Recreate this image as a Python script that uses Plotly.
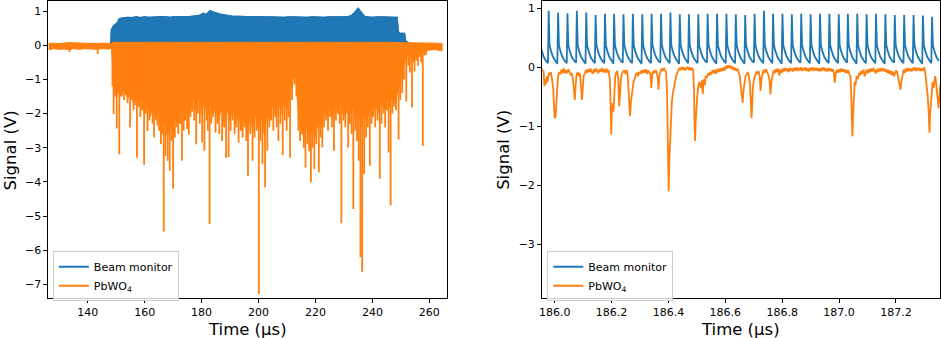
import plotly.graph_objects as go

BLUE = "#1f77b4"
ORANGE = "#ff7f0e"

# ---------------- Left panel data (full spill) ----------------
# Beam monitor: upper envelope of the dense signal (V) vs time (us)
beam_t = [148.2, 148.4, 149.0, 149.8, 150.5, 151.2, 152.5, 154.0, 155.5, 157.0, 158.5, 160.0, 161.5,
          163.0, 164.5, 166.0, 167.5, 169.0, 170.5, 172.0, 173.5, 175.0, 176.5, 178.0, 179.0,
          180.0, 180.8, 181.5, 182.3, 183.0, 183.8, 184.6, 185.5, 186.5, 188.0, 189.5, 191.0,
          193.0, 195.0, 197.0, 199.0, 201.0, 203.0, 205.0, 207.0, 209.0, 211.0, 213.0, 215.0,
          217.0, 219.0, 221.0, 223.0, 225.0, 227.0, 229.0, 231.0, 232.5, 233.5, 234.3, 235.0,
          235.6, 236.3, 237.2, 238.5, 240.0, 242.0, 244.0, 246.0, 248.0, 248.6, 249.0, 249.5,
          250.5, 251.2, 251.6, 252.5, 253.5, 254.5, 255.0]
beam_v = [0.0, 0.45, 0.55, 0.6, 0.66, 0.77, 0.79, 0.81, 0.8, 0.82, 0.8, 0.82, 0.81,
          0.82, 0.81, 0.83, 0.82, 0.81, 0.83, 0.82, 0.83, 0.82, 0.84, 0.85, 0.86,
          0.9, 0.93, 0.88, 0.95, 1.0, 0.97, 0.95, 0.92, 0.9, 0.88, 0.86, 0.84,
          0.84, 0.83, 0.82, 0.83, 0.82, 0.82, 0.81, 0.82, 0.81, 0.82, 0.81, 0.82,
          0.81, 0.82, 0.81, 0.81, 0.82, 0.81, 0.82, 0.82, 0.85, 0.92, 1.02, 1.07,
          1.0, 0.92, 0.84, 0.82, 0.81, 0.82, 0.81, 0.81, 0.81, 0.81, 0.4, 0.35,
          0.35, 0.34, 0.12, 0.07, 0.05, 0.04, 0.0]

# PbWO4: dense core band (top and jagged bottom edges)
pb_core_t = [126.3, 128.0, 130.0, 132.0, 133.5, 135.0, 137.0, 139.0, 141.0, 143.0, 145.0, 147.0,
             148.4, 148.6,
             149, 150, 151, 152, 153, 154, 155, 156, 157, 158, 159, 160, 161, 162, 163, 164,
             165, 166, 167, 168, 169, 170, 171, 172, 173, 174, 175, 176, 177, 178, 179, 180,
             181, 182, 183, 184, 185, 186, 187, 188, 189, 190, 191, 192, 193, 194, 195, 196,
             197, 198, 199, 200, 201, 202, 203, 204, 205, 206, 207, 208, 209, 210, 211, 212,
             213, 214, 215, 216, 217, 218, 219, 220, 221, 222, 223, 224, 225, 226, 227, 228,
             229, 230, 231, 232, 233, 234, 235, 236, 237, 238, 239, 240, 241, 242, 243, 244,
             245, 246, 247, 248, 249, 250, 251, 252, 253, 254, 256, 258, 260, 262, 264.5]
pb_core_hi = [0.05, 0.06, 0.05, 0.07, 0.08, 0.07, 0.06, 0.05, 0.06, 0.05, 0.06, 0.05,
              0.05, 0.07,
              0.08, 0.09, 0.08, 0.09, 0.08, 0.09, 0.08, 0.09, 0.08, 0.09, 0.08, 0.09, 0.08, 0.09, 0.08, 0.09,
              0.08, 0.09, 0.08, 0.09, 0.08, 0.09, 0.08, 0.09, 0.08, 0.09, 0.08, 0.09, 0.08, 0.09, 0.08, 0.09,
              0.08, 0.09, 0.08, 0.09, 0.08, 0.09, 0.08, 0.09, 0.08, 0.09, 0.08, 0.09, 0.08, 0.09, 0.08, 0.09,
              0.08, 0.09, 0.08, 0.09, 0.08, 0.09, 0.08, 0.09, 0.08, 0.09, 0.08, 0.09, 0.08, 0.09, 0.08, 0.09,
              0.08, 0.09, 0.08, 0.09, 0.08, 0.09, 0.08, 0.09, 0.08, 0.09, 0.08, 0.09, 0.08, 0.09, 0.08, 0.09,
              0.08, 0.09, 0.08, 0.09, 0.08, 0.09, 0.08, 0.09, 0.08, 0.09, 0.08, 0.09, 0.08, 0.09, 0.08, 0.09,
              0.08, 0.09, 0.08, 0.08, 0.07, 0.07, 0.06, 0.06, 0.06, 0.06, 0.06, 0.06, 0.06, 0.06, 0.05]
pb_core_lo = [-0.13, -0.1, -0.12, -0.11, -0.13, -0.1, -0.12, -0.1, -0.11, -0.12, -0.1, -0.11,
              -0.1, -0.5,
              -1.0, -1.5, -1.2, -1.5, -1.1, -1.6, -1.3, -1.7, -1.4, -1.8, -1.5, -2.0, -1.6, -2.1, -1.7, -2.2,
              -1.9, -2.6, -2.2, -2.7, -2.3, -2.6, -2.0, -2.3, -1.9, -2.2, -1.8, -2.0, -1.5, -1.9, -1.5, -2.0,
              -1.6, -2.1, -1.7, -2.0, -1.8, -2.2, -1.8, -2.3, -1.9, -2.2, -1.8, -2.3, -2.0, -2.5, -2.0, -2.6,
              -2.1, -2.5, -2.0, -2.5, -2.1, -2.6, -2.0, -2.2, -1.7, -2.1, -1.6, -2.0, -1.6, -1.9, -1.4, -1.0,
              -0.9, -2.0, -2.3, -2.8, -2.3, -2.8, -2.4, -2.7, -2.2, -2.4, -1.8, -2.1, -1.7, -2.1, -1.7, -2.0,
              -1.6, -2.1, -1.7, -2.0, -1.8, -2.2, -1.9, -2.4, -2.0, -2.2, -1.8, -2.1, -1.7, -2.0, -1.6, -1.9,
              -1.5, -1.8, -1.4, -1.7, -1.3, -1.1, -0.6, -0.3, -0.28, -0.35, -0.25, -0.18, -0.14, -0.13, -0.16]

# PbWO4: individual negative pulses (time, depth)
pb_spike_t = [133.6, 143.5, 148.7, 149.1, 149.6, 150.2, 150.6, 151.1, 151.6, 152.2, 152.8, 153.4,
              154.0, 154.9, 155.5, 156.1, 156.7, 157.3, 157.9, 158.5, 159.1, 159.8, 160.4, 161.0,
              161.6, 162.2, 162.8, 163.3, 163.9, 164.5, 165.1, 165.7, 166.2, 166.7, 167.3, 168.1,
              168.8, 169.4, 170.0, 170.6, 171.2, 171.8, 172.5, 173.1, 173.7, 174.3, 174.9, 175.5,
              176.1, 176.7, 177.4, 178.1, 178.7, 179.4, 180.2, 181.0, 181.7, 182.2, 182.8, 183.4,
              184.1, 184.9, 185.5, 186.2, 187.2, 187.9, 188.6, 189.5, 190.2, 190.9, 191.6, 192.3,
              193.0, 193.7, 194.4, 195.0, 195.7, 196.3, 197.1, 197.9, 198.6, 199.3, 200.1, 200.7,
              201.4, 202.3, 203.1, 203.8, 204.5, 205.2, 205.9, 206.4, 207.0, 207.7, 208.5, 209.2,
              209.9, 210.5, 211.1, 211.8, 212.6, 213.3, 214.0, 214.6, 215.2, 215.9, 216.5, 217.2,
              217.8, 218.4, 219.0, 219.6, 220.3, 221.2, 221.8, 222.4, 223.0, 223.7, 224.4, 225.1,
              225.8, 226.5, 227.2, 227.9, 228.5, 229.1, 229.8, 230.5, 231.0, 231.5, 232.1, 232.7,
              233.3, 234.0, 234.6, 235.2, 235.8, 236.4, 237.1, 237.8, 238.4, 239.1, 239.7, 240.3,
              241.0, 241.8, 242.6, 243.2, 243.9, 244.5, 245.1, 245.7, 246.4, 247.0, 247.6, 248.3,
              249.2, 249.8, 250.5, 251.1, 251.9, 252.6, 253.2, 253.9, 254.3, 254.8, 255.4, 256.0,
              256.6, 257.1, 257.7, 258.3, 258.9]
pb_spike_v = [-0.2, -0.26, -1.2, -2.01, -1.5, -2.44, -1.4, -3.19, -1.5, -1.35, -1.6, -1.45,
              -1.7, -2.41, -1.6, -1.9, -1.75, -3.29, -1.8, -2.1, -1.9, -3.5, -2.0, -2.51,
              -2.2, -1.95, -2.3, -2.7, -2.1, -2.35, -2.5, -2.9, -2.6, -5.45, -3.24, -3.38,
              -3.67, -2.8, -4.2, -2.7, -2.4, -2.6, -2.3, -3.38, -2.5, -2.2, -2.45, -2.61,
              -2.1, -1.95, -2.2, -2.9, -2.0, -2.3, -2.85, -3.09, -2.2, -2.5, -5.23, -2.3,
              -2.1, -2.56, -2.3, -2.6, -2.8, -2.4, -3.29, -3.27, -2.5, -2.2, -2.6, -2.4,
              -2.85, -2.5, -2.7, -2.4, -2.8, -3.82, -2.6, -3.38, -2.7, -2.5, -7.29, -2.8,
              -3.48, -4.16, -3.09, -2.4, -2.2, -2.5, -2.1, -2.4, -2.8, -2.3, -3.21, -2.2,
              -2.5, -2.1, -3.29, -1.6, -1.15, -1.5, -2.5, -2.8, -2.6, -3.0, -3.58, -2.9,
              -3.1, -4.01, -3.0, -3.62, -2.9, -3.72, -2.7, -2.99, -2.4, -2.2, -2.5, -2.1,
              -2.4, -3.09, -2.2, -2.0, -2.3, -5.21, -2.2, -2.4, -2.0, -2.99, -2.3, -2.6,
              -4.79, -2.5, -2.8, -3.38, -6.2, -6.63, -3.77, -2.7, -2.4, -3.53, -2.3, -2.1,
              -2.4, -2.2, -3.91, -2.3, -2.0, -2.4, -1.9, -3.14, -4.69, -2.0, -1.8, -1.9,
              -2.76, -1.6, -1.4, -1.0, -1.65, -0.6, -0.8, -1.82, -0.5, -0.77, -0.45, -0.6,
              -0.35, -0.5, -2.95, -0.3, -0.28]

# ---------------- Right panel data (zoom) ----------------
bm_peak_t = [185.946, 185.979, 186.012, 186.045, 186.078, 186.111, 186.144, 186.177, 186.209,
             186.242, 186.275, 186.308, 186.341, 186.374, 186.407, 186.440, 186.472, 186.505,
             186.538, 186.571, 186.604, 186.637, 186.670, 186.703, 186.736, 186.768, 186.801,
             186.834, 186.867, 186.900, 186.933, 186.966, 186.999, 187.031, 187.064, 187.097,
             187.130, 187.163, 187.196, 187.229, 187.262, 187.295, 187.327]
bm_peak_v = [0.9, 0.96, 0.93, 0.92, 0.96, 0.93, 0.89, 0.91, 0.91, 0.9, 0.91, 0.9, 0.91,
             0.91, 0.93, 0.9, 0.9, 0.9, 0.91, 0.91, 0.91, 0.9, 0.89, 0.91, 0.96, 0.91,
             0.91, 0.9, 0.91, 0.9, 0.91, 0.91, 0.9, 0.91, 0.91, 0.9, 0.91, 0.9, 0.89,
             0.89, 0.89, 0.88, 0.86]
bm_base_v = [0.08, 0.07, 0.06, 0.07, 0.08, 0.06, 0.07, 0.07, 0.06, 0.08, 0.07, 0.06, 0.07,
             0.08, 0.07, 0.06, 0.07, 0.07, 0.08, 0.06, 0.07, 0.07, 0.06, 0.08, 0.07, 0.07,
             0.06, 0.07, 0.08, 0.07, 0.06, 0.07, 0.07, 0.08, 0.06, 0.07, 0.07, 0.06, 0.08,
             0.07, 0.07, 0.06, 0.07]
bm_tail_dt = [0.0012, 0.003, 0.008, 0.015, 0.024]
bm_tail_v = [0.45, 0.38, 0.28, 0.18, 0.11]

pbz_t = [185.955, 185.958, 185.961, 185.964, 185.967, 185.970, 185.973, 185.976, 185.979, 185.983,
         185.987, 185.991, 185.995, 185.998, 186.000, 186.003, 186.006, 186.009, 186.012, 186.016,
         186.020, 186.024, 186.028, 186.032, 186.036, 186.040, 186.044, 186.048, 186.052, 186.056,
         186.060, 186.064, 186.068, 186.071, 186.074, 186.077, 186.081, 186.085, 186.089, 186.093,
         186.096, 186.099, 186.102, 186.106, 186.110, 186.114, 186.118, 186.122, 186.126, 186.130,
         186.134, 186.138, 186.142, 186.146, 186.150, 186.154, 186.158, 186.162, 186.166, 186.170,
         186.174, 186.178, 186.182, 186.186, 186.190, 186.194, 186.197, 186.199, 186.201, 186.204,
         186.207, 186.210, 186.213, 186.216, 186.220, 186.224, 186.227, 186.230, 186.233, 186.237,
         186.241, 186.245, 186.249, 186.253, 186.257, 186.261, 186.265, 186.268, 186.271, 186.274,
         186.277, 186.281, 186.285, 186.289, 186.293, 186.297, 186.301, 186.305, 186.309, 186.313,
         186.317, 186.321, 186.325, 186.329, 186.333, 186.337, 186.340, 186.343, 186.347, 186.351,
         186.355, 186.359, 186.363, 186.365, 186.368, 186.372, 186.376, 186.380, 186.384, 186.388,
         186.392, 186.395, 186.397, 186.399, 186.401, 186.403, 186.406, 186.409, 186.412, 186.415,
         186.419, 186.423, 186.427, 186.431, 186.435, 186.439, 186.443, 186.447, 186.451, 186.455,
         186.459, 186.463, 186.467, 186.471, 186.475, 186.479, 186.483, 186.487, 186.490, 186.492,
         186.494, 186.496, 186.499, 186.502, 186.506, 186.510, 186.514, 186.518, 186.521, 186.524,
         186.528, 186.531, 186.535, 186.539, 186.543, 186.547, 186.551, 186.555, 186.559, 186.563,
         186.567, 186.571, 186.575, 186.579, 186.583, 186.587, 186.591, 186.595, 186.599, 186.603,
         186.607, 186.611, 186.615, 186.619, 186.623, 186.627, 186.631, 186.635, 186.639, 186.643,
         186.647, 186.651, 186.655, 186.658, 186.661, 186.664, 186.667, 186.671, 186.675, 186.679,
         186.683, 186.687, 186.690, 186.692, 186.694, 186.697, 186.701, 186.705, 186.709, 186.713,
         186.717, 186.721, 186.724, 186.727, 186.731, 186.735, 186.739, 186.743, 186.747, 186.751,
         186.755, 186.759, 186.762, 186.766, 186.770, 186.774, 186.778, 186.782, 186.786, 186.790,
         186.794, 186.798, 186.802, 186.806, 186.810, 186.814, 186.818, 186.822, 186.826, 186.830,
         186.834, 186.838, 186.842, 186.846, 186.850, 186.854, 186.858, 186.862, 186.866, 186.870,
         186.874, 186.878, 186.882, 186.886, 186.890, 186.894, 186.898, 186.902, 186.906, 186.910,
         186.914, 186.918, 186.922, 186.926, 186.930, 186.934, 186.938, 186.942, 186.946, 186.950,
         186.954, 186.958, 186.962, 186.966, 186.970, 186.974, 186.978, 186.982, 186.985, 186.988,
         186.992, 186.996, 187.000, 187.004, 187.008, 187.012, 187.016, 187.020, 187.024, 187.028,
         187.032, 187.036, 187.040, 187.043, 187.045, 187.047, 187.049, 187.052, 187.055, 187.058,
         187.062, 187.066, 187.070, 187.074, 187.078, 187.082, 187.086, 187.090, 187.093, 187.097,
         187.101, 187.105, 187.109, 187.113, 187.117, 187.121, 187.125, 187.129, 187.133, 187.137,
         187.141, 187.145, 187.149, 187.153, 187.157, 187.161, 187.165, 187.169, 187.173, 187.177,
         187.181, 187.185, 187.189, 187.193, 187.197, 187.201, 187.205, 187.209, 187.213, 187.216,
         187.219, 187.223, 187.227, 187.231, 187.235, 187.239, 187.243, 187.247, 187.251, 187.255,
         187.259, 187.263, 187.267, 187.271, 187.275, 187.279, 187.283, 187.287, 187.291, 187.295,
         187.299, 187.303, 187.306, 187.309, 187.312, 187.315, 187.318, 187.320, 187.323, 187.326,
         187.329, 187.332, 187.335, 187.338, 187.341, 187.344, 187.347, 187.350, 187.353, 187.356]
pbz_v = [-0.02, -0.08, -0.05, -0.32, -0.2, -0.28, -0.15, -0.24, -0.1, -0.12,
         -0.08, -0.2, -0.35, -0.7, -0.86, -0.84, -0.55, -0.3, -0.15, -0.08,
         -0.12, -0.04, -0.1, -0.02, -0.1, -0.05, -0.1, -0.03, -0.09, -0.12,
         -0.1, -0.2, -0.38, -0.55, -0.3, -0.12, -0.08, -0.15, -0.1, -0.3,
         -0.55, -0.35, -0.15, -0.1, -0.04, -0.09, -0.03, -0.08, -0.02, -0.07,
         -0.11, -0.03, -0.08, -0.02, -0.05, -0.1, -0.03, -0.07, -0.01, -0.08,
         -0.03, -0.09, -0.02, -0.07, -0.05, -0.2, -0.7, -1.14, -0.8, -0.6,
         -0.75, -0.4, -0.15, -0.1, -0.06, -0.2, -0.66, -0.45, -0.2, -0.1,
         -0.08, -0.05, -0.11, -0.04, -0.15, -0.45, -0.83, -0.6, -0.45, -0.35,
         -0.25, -0.2, -0.12, -0.1, -0.15, -0.08, -0.11, -0.05, -0.1, -0.04,
         -0.09, -0.03, -0.11, -0.05, -0.09, -0.12, -0.35, -0.12, -0.06, -0.1,
         -0.04, -0.09, -0.2, -0.38, -0.15, -0.06, -0.02, -0.06, -0.01, -0.05,
         -0.08, -0.4, -1.3, -2.05, -2.1, -1.6, -1.15, -0.9, -0.6, -0.46,
         -0.35, -0.22, -0.15, -0.1, -0.05, -0.01, -0.05, 0.01, -0.04, 0.0,
         -0.05, -0.01, 0.01, -0.04, 0.0, -0.05, -0.01, -0.05, -0.4, -1.0,
         -1.25, -0.9, -0.6, -0.45, -0.3, -0.25, -0.35, -0.22, -0.45, -0.2,
         -0.3, -0.15, -0.18, -0.1, -0.14, -0.08, -0.12, -0.05, -0.1, -0.04,
         -0.11, -0.03, -0.08, -0.02, -0.07, -0.01, -0.06, 0.0, -0.05, 0.03,
         -0.02, 0.04, -0.01, 0.03, -0.03, 0.01, -0.05, -0.01, -0.06, -0.02,
         -0.08, -0.15, -0.35, -0.55, -0.6, -0.4, -0.25, -0.15, -0.12, -0.08,
         -0.15, -0.3, -0.6, -0.86, -0.7, -0.35, -0.2, -0.12, -0.08, -0.1,
         -0.06, -0.15, -0.4, -0.2, -0.1, -0.04, -0.09, -0.03, -0.08, -0.12,
         -0.2, -0.46, -0.25, -0.12, -0.05, -0.1, -0.03, -0.08, -0.02, -0.14,
         -0.04, -0.09, -0.02, -0.07, -0.01, -0.06, -0.02, -0.08, -0.01, -0.06,
         -0.02, -0.07, -0.01, -0.05, 0.0, -0.06, -0.01, -0.05, 0.0, -0.06,
         -0.01, -0.05, 0.0, -0.06, -0.02, -0.07, -0.01, -0.05, 0.0, -0.06,
         -0.01, -0.05, -0.01, -0.06, -0.02, -0.07, -0.01, -0.05, 0.0, -0.06,
         -0.02, -0.07, -0.01, -0.06, -0.02, -0.07, -0.03, -0.1, -0.26, -0.12,
         -0.04, -0.09, -0.03, -0.08, -0.02, -0.07, -0.03, -0.09, -0.04, -0.1,
         -0.05, -0.11, -0.15, -0.5, -0.9, -1.17, -0.85, -0.4, -0.25, -0.3,
         -0.15, -0.2, -0.1, -0.12, -0.06, -0.11, -0.04, -0.15, -0.08, -0.04,
         -0.1, -0.03, -0.08, -0.02, -0.07, -0.01, -0.06, -0.1, -0.03, -0.08,
         -0.02, -0.07, -0.01, -0.06, -0.02, -0.07, -0.03, -0.09, -0.04, -0.11,
         -0.06, -0.13, -0.07, -0.15, -0.1, -0.05, -0.1, -0.2, -0.3, -0.38,
         -0.25, -0.1, -0.04, -0.09, -0.02, -0.07, -0.01, -0.06, -0.02, -0.07,
         -0.01, -0.05, 0.0, -0.06, -0.01, -0.05, -0.01, -0.06, -0.02, -0.06,
         0.0, -0.08, -0.2, -0.35, -0.5, -0.75, -1.11, -0.8, -0.55, -0.4,
         -0.25, -0.35, -0.2, -0.15, -0.25, -0.4, -0.55, -0.69, -0.5, -0.3]

# ---------------- Figure ----------------
LW = 1.8
fig = go.Figure()

# Left: beam monitor envelope
fig.add_trace(go.Scatter(x=beam_t, y=beam_v, mode="lines", fill="tozeroy", fillcolor=BLUE,
                         line=dict(color=BLUE, width=LW), showlegend=False,
                         xaxis="x", yaxis="y", hoverinfo="skip"))
fig.add_trace(go.Scatter(x=beam_t, y=beam_v, mode="lines", line=dict(color=BLUE, width=LW),
                         name="Beam monitor", legend="legend", xaxis="x", yaxis="y"))
# Left: PbWO4 core band
fig.add_trace(go.Scatter(x=pb_core_t + pb_core_t[::-1], y=pb_core_hi + pb_core_lo[::-1],
                         mode="lines", fill="toself", fillcolor=ORANGE,
                         line=dict(color=ORANGE, width=1), showlegend=False,
                         xaxis="x", yaxis="y", hoverinfo="skip"))
# Left: PbWO4 pulses
sx, sy = [], []
for t, v in zip(pb_spike_t, pb_spike_v):
    sx += [t, t, None]
    sy += [0.0, v, None]
fig.add_trace(go.Scatter(x=sx, y=sy, mode="lines", line=dict(color=ORANGE, width=LW),
                         name="PbWO<sub>4</sub>", legend="legend", xaxis="x", yaxis="y"))

# Right: beam monitor pulses
bx, by = [], []
for tp, pv, bv in zip(bm_peak_t, bm_peak_v, bm_base_v):
    bx += [tp - 0.0025, tp] + [tp + d for d in bm_tail_dt]
    by += [bv, pv] + bm_tail_v
fig.add_trace(go.Scatter(x=bx, y=by, mode="lines", line=dict(color=BLUE, width=LW),
                         name="Beam monitor", legend="legend2", xaxis="x2", yaxis="y2"))
fig.add_trace(go.Scatter(x=pbz_t, y=pbz_v, mode="lines", line=dict(color=ORANGE, width=LW),
                         name="PbWO<sub>4</sub>", legend="legend2", xaxis="x2", yaxis="y2"))

W, H = 941, 338
ydom = [(H - 298.3) / H, (H - 0.5) / H]
axis_common = dict(showline=True, mirror=True, linecolor="black", linewidth=1,
                   ticks="outside", ticklen=3.5, tickwidth=1, tickcolor="black",
                   showgrid=False, zeroline=False,
                   tickfont=dict(family="DejaVu Sans", size=11, color="black"))

legend_common = dict(bgcolor="rgba(255,255,255,0.8)", bordercolor="#cccccc", borderwidth=1,
                     font=dict(family="DejaVu Sans", size=11, color="black"),
                     xanchor="left", yanchor="top", tracegroupgap=0, itemwidth=30)

fig.update_layout(
    width=W, height=H,
    margin=dict(l=0, r=0, t=0, b=0),
    paper_bgcolor="white", plot_bgcolor="white",
    font=dict(family="DejaVu Sans", color="black"),
    xaxis=dict(domain=[45 / W, 445 / W], range=[126.0, 266.06], anchor="y",
               tickvals=[140, 160, 180, 200, 220, 240, 260], **axis_common),
    yaxis=dict(domain=ydom, range=[-7.41, 1.28], anchor="x",
               tickvals=[-7, -6, -5, -4, -3, -2, -1, 0, 1], **axis_common),
    xaxis2=dict(domain=[540.3 / W, 940 / W], range=[185.954, 187.355], anchor="y2",
                tickvals=[186.0, 186.2, 186.4, 186.6, 186.8, 187.0, 187.2],
                tickformat=".1f", **axis_common),
    yaxis2=dict(domain=ydom, range=[-3.92, 1.118], anchor="x2",
                tickvals=[-3, -2, -1, 0, 1], **axis_common),
    legend=dict(x=50 / W, y=(H - 251) / H, **legend_common),
    legend2=dict(x=546 / W, y=(H - 251) / H, **legend_common),
    showlegend=True,
)

title_font = dict(family="DejaVu Sans", size=16.5, color="black")
annotations = [
    dict(text="Signal (V)", x=7.5 / W, y=(H - 149.4) / H, textangle=-90),
    dict(text="Signal (V)", x=502.5 / W, y=(H - 149.4) / H, textangle=-90),
    dict(text="Time (µs)", x=245 / W, y=(H - 329) / H),
    dict(text="Time (µs)", x=740.15 / W, y=(H - 329) / H),
]
for a in annotations:
    fig.add_annotation(xref="paper", yref="paper", showarrow=False, xanchor="center",
                       yanchor="middle", font=title_font, **a)

fig.write_html("out.html", config={"displayModeBar": False},
               post_script="document.body.style.margin='0';document.body.style.overflow='hidden';")
